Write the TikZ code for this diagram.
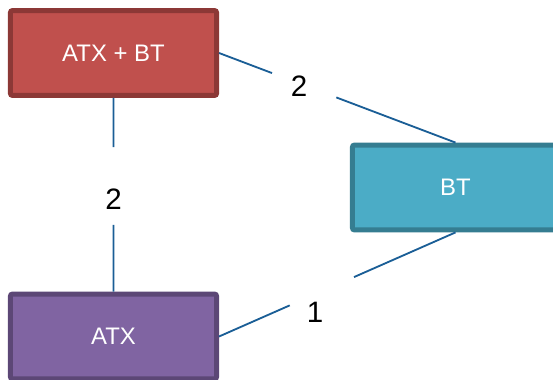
\documentclass[tikz,border=0pt]{standalone}
\usepackage{fontspec}
\setmainfont{Liberation Sans}
\usepackage{xcolor}
\usetikzlibrary{positioning,calc}
\definecolor{redfill}{HTML}{C0504D}
\definecolor{redline}{HTML}{8C3836}
\definecolor{bluefill}{HTML}{4BACC6}
\definecolor{blueline}{HTML}{357D91}
\definecolor{purplefill}{HTML}{8064A2}
\definecolor{purpleline}{HTML}{5C4776}
\definecolor{linkblue}{HTML}{1A5E96}
\tikzset{
  box/.style={rectangle,rounded corners=0.05cm,line width=0.125cm,
    minimum width=5.15cm,minimum height=2.12cm,text=white,
    font=\fontsize{17}{20}\selectfont},
  link/.style={draw=linkblue,line width=1.3pt},
  num/.style={font=\fontsize{21}{24}\selectfont,inner sep=0pt}
}

\begin{document}
\begin{tikzpicture}[x=0.025cm,y=-0.025cm]
\useasboundingbox (0,0) rectangle (553,380);
\clip (0,0) rectangle (553,380);
% boxes
\node[box,fill=redfill,draw=redline] (atxbt) at (113.5,53) {ATX + BT};
\node[box,fill=bluefill,draw=blueline] (bt) at (455.5,187.5) {BT};
\node[box,fill=purplefill,draw=purpleline] (atx) at (113.5,336.5) {ATX};
% gaps in the links
\coordinate (g1a) at ($(atxbt.east)!0.224!(bt.north)$);
\coordinate (g1b) at ($(atxbt.east)!0.496!(bt.north)$);
\coordinate (g2a) at ($(atxbt.south)!0.254!(atx.north)$);
\coordinate (g2b) at ($(atxbt.south)!0.656!(atx.north)$);
\coordinate (g3a) at ($(atx.east)!0.299!(bt.south)$);
\coordinate (g3b) at ($(atx.east)!0.571!(bt.south)$);
% links
\draw[link] (atxbt.east) -- (g1a);
\draw[link] (g1b) -- (bt.north);
\draw[link] (atxbt.south) -- (g2a);
\draw[link] (g2b) -- (atx.north);
\draw[link] (atx.east) -- (g3a);
\draw[link] (g3b) -- (bt.south);
% numbers
\node[num] (n1) at (299,86) {2};
\node[num] (n2) at (113.5,199) {2};
\node[num] (n3) at (315,312.5) {1};
\end{tikzpicture}
\end{document}
